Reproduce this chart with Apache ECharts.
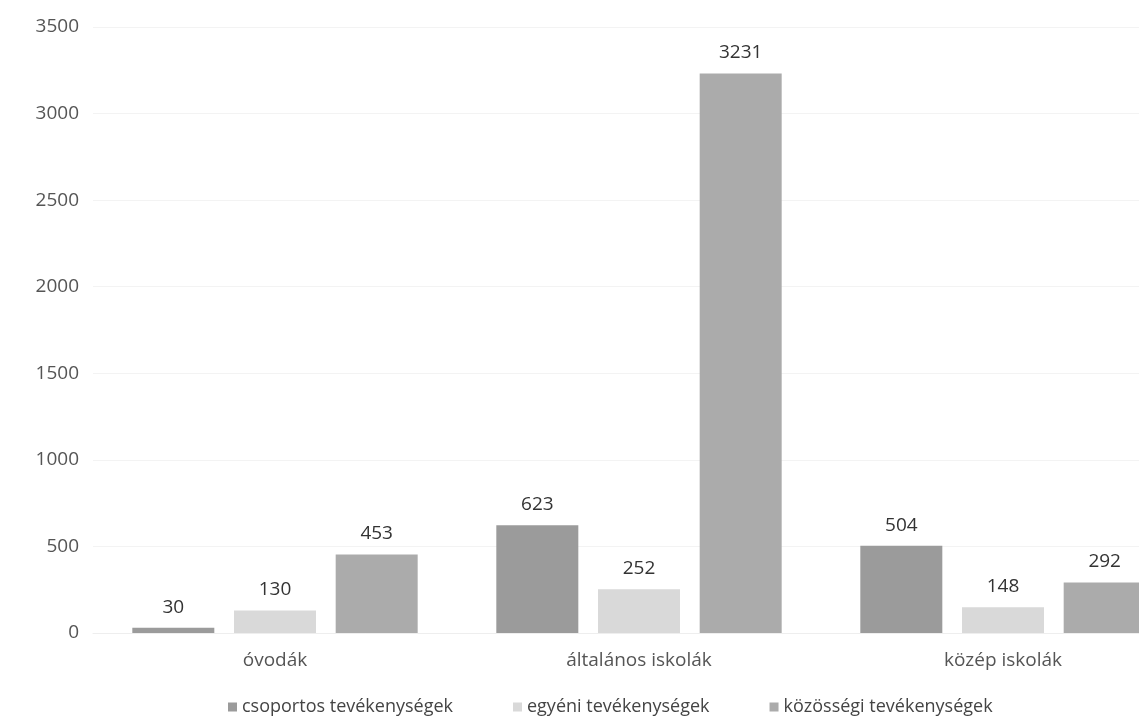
<!DOCTYPE html>
<html><head><meta charset="utf-8">
<script src="https://cdn.jsdelivr.net/npm/echarts@6/dist/echarts.min.js"></script>
<style>html,body{margin:0;padding:0;background:#fff;overflow:hidden;width:1139px;height:723px}#c{width:1185px;height:723px}</style>
</head><body><div id="c"></div>
<script>
const categories = ['óvodák', 'általános iskolák', 'közép iskolák'];
const csoportos = [30, 623, 504];
const egyeni = [130, 252, 148];
const kozossegi = [453, 3231, 292];
const seriesNames = ['csoportos tevékenységek', 'egyéni tevékenységek', 'közösségi tevékenységek'];
const colors = ['#9b9b9b', '#d9d9d9', '#ababab'];

const chart = echarts.init(document.getElementById('c'));
const font = 'Open Sans';
const label = {show: true, position: 'top', distance: 11, color: '#333', fontSize: 19, fontFamily: font};
chart.setOption({
  animation: false,
  color: colors,
  grid: {left: 93, top: 27, right: 0, bottom: 90, containLabel: false},
  legend: {bottom: 2, left: 223, itemWidth: 9, itemHeight: 9, itemGap: 60,
    textStyle: {fontSize: 18, color: '#444', fontFamily: font}, icon: 'rect'},
  xAxis: {type: 'category', data: categories,
    axisLine: {show: true, lineStyle: {color: '#eeeeee'}}, axisTick: {show: false},
    axisLabel: {fontSize: 19, color: '#555', fontFamily: font, margin: 18}},
  yAxis: {type: 'value', min: 0, max: 3500, interval: 500,
    axisLine: {show: false}, axisTick: {show: false},
    splitLine: {lineStyle: {color: '#f3f3f3'}},
    axisLabel: {fontSize: 19, color: '#555', fontFamily: font, margin: 14, formatter: v => String(v)}},
  series: [
    {name: seriesNames[0], type: 'bar', data: csoportos, barWidth: 82, barGap: '24%', label},
    {name: seriesNames[1], type: 'bar', data: egyeni, barWidth: 82, barGap: '24%', label},
    {name: seriesNames[2], type: 'bar', data: kozossegi, barWidth: 82, barGap: '24%', label}
  ]
});
</script></body></html>
